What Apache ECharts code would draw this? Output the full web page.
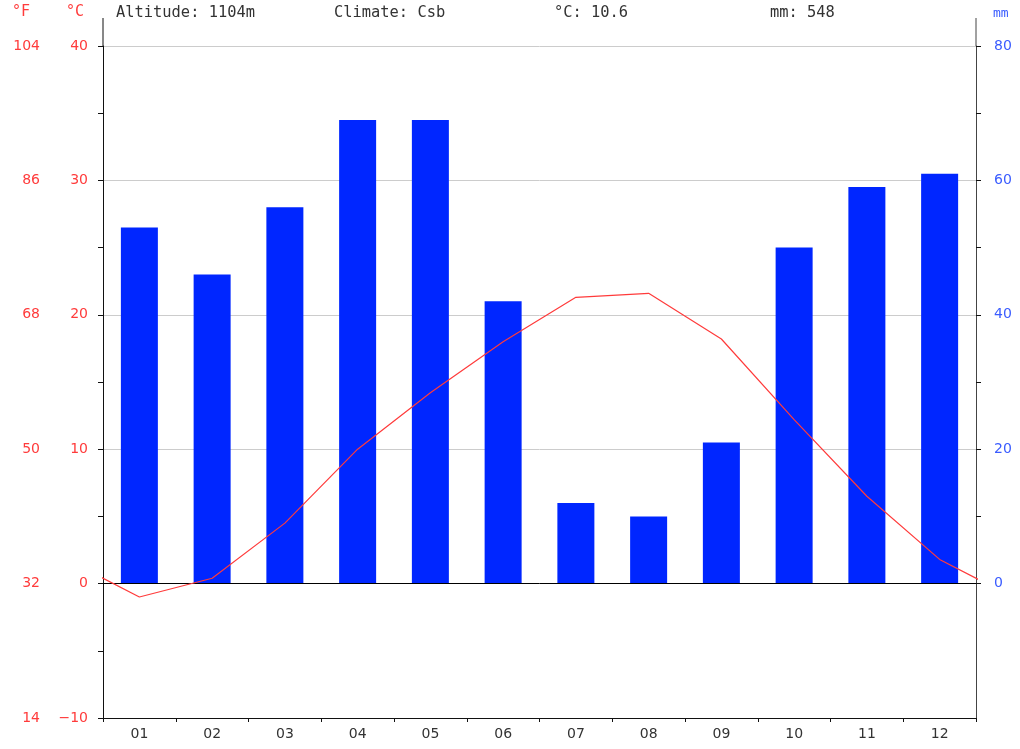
<!DOCTYPE html>
<html>
<head>
<meta charset="utf-8">
<script src="https://cdn.jsdelivr.net/npm/echarts@6/dist/echarts.min.js"></script>
<style>
  html, body { margin: 0; padding: 0; background: #fff; }
  #chart { width: 1020px; height: 749px; }
</style>
</head>
<body>
<div id="chart"></div>
<script>
// climate data
const months = ['01', '02', '03', '04', '05', '06', '07', '08', '09', '10', '11', '12'];
const precipMm = [53, 46, 56, 69, 69, 42, 12, 10, 21, 50, 59, 61];
const tempC = [-1.0, 0.4, 4.5, 10.0, 14.2, 18.0, 21.3, 21.6, 18.2, 12.2, 6.5, 1.8];
const tempTicks = [-10, 0, 10, 20, 30, 40];
const fahrTicks = [14, 32, 50, 68, 86, 104];
const mmTicks = [0, 20, 40, 60, 80];
const mmMinorTicks = [0, 10, 20, 30, 40, 50, 60, 70, 80];
const headerInfo = ['Altitude: 1104m', 'Climate: Csb', '°C: 10.6', 'mm: 548'];

const RED = '#ff3b3b';
const BLUE = '#0026ff';
const LABEL_BLUE = '#3a5cff';
const TEXT = '#333';

// line wraps around the year: Dec before Jan, Jan after Dec (clipped at the edges)
const tempPoints = [[0, tempC[11]]]
  .concat(tempC.map((v, i) => [i + 1, v]))
  .concat([[13, tempC[0]]]);

const minus = (v) => String(v).replace('-', '\u2212');

const chart = echarts.init(document.getElementById('chart'));

const headerX = [116, 334, 554, 770];

const option = {
  animation: false,
  grid: { left: 103, right: 44, top: 46, bottom: 31 },
  xAxis: [
    {
      type: 'category',
      data: months,
      position: 'bottom',
      axisLine: { onZero: false, lineStyle: { color: '#111', width: 1 } },
      axisTick: { show: true, length: 4, lineStyle: { color: '#111' } },
      axisLabel: { color: TEXT, fontSize: 14, fontFamily: 'DejaVu Sans', margin: 9 },
      splitLine: { show: false }
    },
    {
      type: 'value',
      min: 0.5,
      max: 12.5,
      show: false
    }
  ],
  yAxis: [
    {
      type: 'value',
      min: -10,
      max: 40,
      interval: 10,
      position: 'left',
      axisLine: { show: true, onZero: false, lineStyle: { color: '#111' } },
      axisTick: { show: true, length: 5, lineStyle: { color: '#111' } },
      minorTick: { show: true, splitNumber: 2, length: 5, lineStyle: { color: '#111' } },
      axisLabel: { color: RED, fontSize: 14, fontFamily: 'DejaVu Sans', margin: 15, formatter: minus },
      splitLine: { show: true, lineStyle: { color: '#cccccc', width: 1 } }
    },
    {
      type: 'value',
      min: 14,
      max: 104,
      interval: 18,
      position: 'left',
      offset: 48,
      axisLine: { show: false },
      axisTick: { show: false },
      axisLabel: { color: RED, fontSize: 14, fontFamily: 'DejaVu Sans', margin: 15, customValues: fahrTicks },
      splitLine: { show: false }
    },
    {
      type: 'value',
      min: -20,
      max: 80,
      interval: 10,
      position: 'right',
      axisLine: { show: true, onZero: false, lineStyle: { color: '#444' } },
      axisTick: { show: true, length: 5, customValues: mmMinorTicks, lineStyle: { color: '#111' } },
      axisLabel: { color: LABEL_BLUE, fontSize: 14, fontFamily: 'DejaVu Sans', margin: 18, customValues: mmTicks },
      splitLine: { show: false }
    }
  ],
  graphic: [
    { type: 'line', shape: { x1: 103, y1: 18, x2: 103, y2: 46 }, style: { stroke: '#111', lineWidth: 1 } },
    { type: 'line', shape: { x1: 976, y1: 18, x2: 976, y2: 46 }, style: { stroke: '#444', lineWidth: 1 } },
    { type: 'text', left: 12, top: 5, style: { text: '°F', fill: RED, font: '15px "DejaVu Sans Mono"' } },
    { type: 'text', left: 66, top: 5, style: { text: '°C', fill: RED, font: '15px "DejaVu Sans Mono"' } },
    { type: 'text', left: 993, top: 7, style: { text: 'mm', fill: LABEL_BLUE, font: '13px "DejaVu Sans Mono"' } }
  ].concat(headerInfo.map((t, i) => ({
    type: 'text',
    left: headerX[i],
    top: 5,
    style: { text: t, fill: TEXT, font: '15.4px "DejaVu Sans Mono"' }
  }))),
  series: [
    {
      name: 'mm',
      type: 'bar',
      xAxisIndex: 0,
      yAxisIndex: 2,
      data: precipMm,
      barWidth: 37,
      itemStyle: { color: BLUE },
      markLine: {
        silent: true,
        symbol: 'none',
        label: { show: false },
        lineStyle: { color: '#000', type: 'solid', width: 1 },
        data: [{ yAxis: 0 }]
      },
      z: 2
    },
    {
      name: '°C',
      type: 'line',
      xAxisIndex: 1,
      yAxisIndex: 0,
      data: tempPoints,
      clip: true,
      symbol: 'none',
      lineStyle: { color: RED, width: 1.2 },
      z: 5
    }
  ]
};

chart.setOption(option);
</script>
</body>
</html>
